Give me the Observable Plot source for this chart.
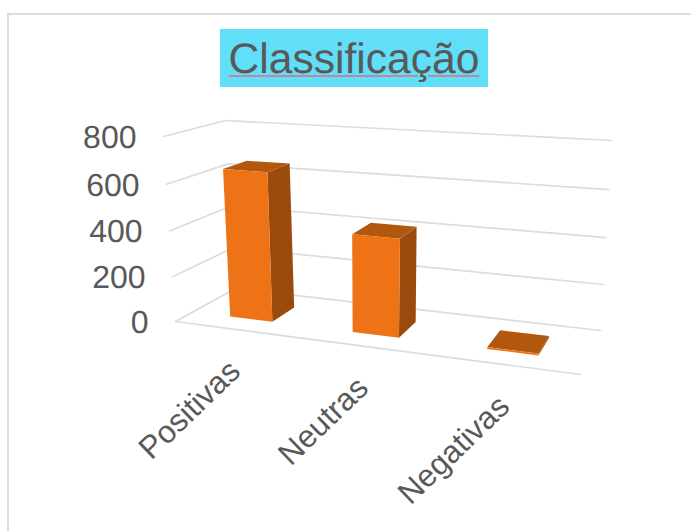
<!DOCTYPE html>
<html lang="pt">
<head>
<meta charset="utf-8">
<script src="https://cdn.jsdelivr.net/npm/d3@7"></script>
<script src="https://cdn.jsdelivr.net/npm/@observablehq/plot@0.6"></script>
<style>
  html, body { margin: 0; padding: 0; background: #fff; }
  #chart { position: relative; width: 691px; height: 531px; overflow: hidden; font-family: "Liberation Sans", Arial, sans-serif; text-rendering: geometricPrecision; }
  #frame { position: absolute; left: 7px; top: 13px; width: 700px; height: 560px; border: 2px solid #dcdcdc; box-sizing: border-box; }
  #title { position: absolute; left: 220px; top: 29px; width: 268px; height: 58px; background: #61dff9; color: #595959;
           font-size: 42.6px; line-height: 60px; text-align: center; white-space: nowrap;
           text-decoration: underline; text-decoration-color: #c4869c; text-decoration-thickness: 1.5px; text-underline-offset: 1.5px; }
  #chart svg { position: absolute; left: 0; top: 0; background: transparent; }
</style>
</head>
<body>
<div id="chart">
  <div id="frame"></div>
  <div id="title">Classificação</div>
</div>
<script>
// Survey results by class
const categories = ["Positivas", "Neutras", "Negativas"];
const counts = [650, 418, 8];
const valueTicks = [0, 200, 400, 600, 800];
const axisMax = 800;

// Floor of the 3D plot on screen, ordered front-left, front-right, back-right, back-left
const floorCorners = [[175, 321], [580, 374], [600, 330], [235, 288]];
// Screen displacement of the full value axis standing on each of those corners
const riseAtCorners = [[-12, -185], [13, -209], [11, -190], [-10, -168]];
// Foreshortening of the value axis: higher values are spaced slightly wider
const riseBend = 0.044;

// Depth and width of a column inside its category slot
const depthRange = [0.27, 0.68];
const columnWidth = 0.355;

// Perspective map of the unit square onto a quadrilateral
function quadMap([[x0, y0], [x1, y1], [x2, y2], [x3, y3]]) {
  const dx1 = x1 - x2, dx2 = x3 - x2, dx3 = x0 - x1 + x2 - x3;
  const dy1 = y1 - y2, dy2 = y3 - y2, dy3 = y0 - y1 + y2 - y3;
  const det = dx1 * dy2 - dx2 * dy1;
  const g = (dx3 * dy2 - dx2 * dy3) / det;
  const h = (dx1 * dy3 - dx3 * dy1) / det;
  const a = x1 - x0 + g * x1, b = x3 - x0 + h * x3;
  const d = y1 - y0 + g * y1, e = y3 - y0 + h * y3;
  return (u, w) => {
    const q = g * u + h * w + 1;
    return [(a * u + b * w + x0) / q, (d * u + e * w + y0) / q];
  };
}
const onFloor = quadMap(floorCorners);

function riseAt(u, w) {
  const [fl, fr, br, bl] = riseAtCorners;
  const mix = (k) =>
    (1 - w) * ((1 - u) * fl[k] + u * fr[k]) + w * ((1 - u) * bl[k] + u * br[k]);
  return [mix(0), mix(1)];
}

// u: along the category axis, value: along the value axis, w: into the depth
function project(u, value, w) {
  const s = value / axisMax;
  const t = s / (1 + riseBend * (1 - s));
  const [fx, fy] = onFloor(u, w);
  const [rx, ry] = riseAt(u, w);
  return {x: fx + rx * t, y: fy + ry * t};
}

// Gridlines run along the left wall and the back wall; the floor also closes at the front
const gridLines = valueTicks.flatMap((tick) => [
  {tick, ...project(0, tick, 0)},
  {tick, ...project(0, tick, 1)},
  {tick, ...project(1, tick, 1)}
]);
const floorFront = [project(0, 0, 0), project(1, 0, 0)];

// Column faces, one polygon per face
const slot = 1 / categories.length;
function face(name, category, corners) {
  return corners.map(([u, value, w]) => ({id: `${category}-${name}`, ...project(u, value, w)}));
}
const columns = categories.map((category, i) => {
  const c = (i + 0.5) * slot, half = (columnWidth * slot) / 2;
  return {category, value: counts[i], u0: c - half, u1: c + half, w0: depthRange[0], w1: depthRange[1]};
});
const fronts = columns.flatMap(({category, value: v, u0, u1, w0}) =>
  face("front", category, [[u0, 0, w0], [u1, 0, w0], [u1, v, w0], [u0, v, w0]]));
const sides = columns.flatMap(({category, value: v, u1, w0, w1}) =>
  face("side", category, [[u1, 0, w0], [u1, 0, w1], [u1, v, w1], [u1, v, w0]]));
const tops = columns.flatMap(({category, value: v, u0, u1, w0, w1}) =>
  face("top", category, [[u0, v, w0], [u1, v, w0], [u1, v, w1], [u0, v, w1]]));

const tickLabels = valueTicks.map((tick) => ({label: String(tick), ...project(0, tick, 0)}));
const categoryLabels = categories.map((label, i) => ({label, ...project((i + 0.5) * slot, 0, 0)}));

const plot = Plot.plot({
  width: 691,
  height: 531,
  margin: 0,
  x: {type: "identity", axis: null},
  y: {type: "identity", axis: null},
  marks: [
    Plot.line(gridLines, {x: "x", y: "y", z: "tick", stroke: "#dcdcdc", strokeWidth: 1.7, strokeLinejoin: "miter"}),
    Plot.line(floorFront, {x: "x", y: "y", stroke: "#dcdcdc", strokeWidth: 1.7}),
    Plot.line(sides, {x: "x", y: "y", z: "id", fill: "#9a4a0c", stroke: "none"}),
    Plot.line(tops, {x: "x", y: "y", z: "id", fill: "#b2580e", stroke: "none"}),
    Plot.line(fronts, {x: "x", y: "y", z: "id", fill: "#ee7316", stroke: "none"}),
    Plot.text(tickLabels, {
      x: "x", y: "y", text: "label", dx: -27, dy: 1, textAnchor: "end",
      fontSize: 32, fill: "#595959", fontFamily: "Liberation Sans, Arial, sans-serif"
    }),
    Plot.text(categoryLabels, {
      x: "x", y: "y", text: "label", dx: 7, dy: 44, rotate: -44, textAnchor: "end", lineAnchor: "bottom",
      fontSize: 31.5, fill: "#595959", fontFamily: "Liberation Sans, Arial, sans-serif"
    })
  ]
});
document.getElementById("chart").append(plot);
</script>
</body>
</html>
